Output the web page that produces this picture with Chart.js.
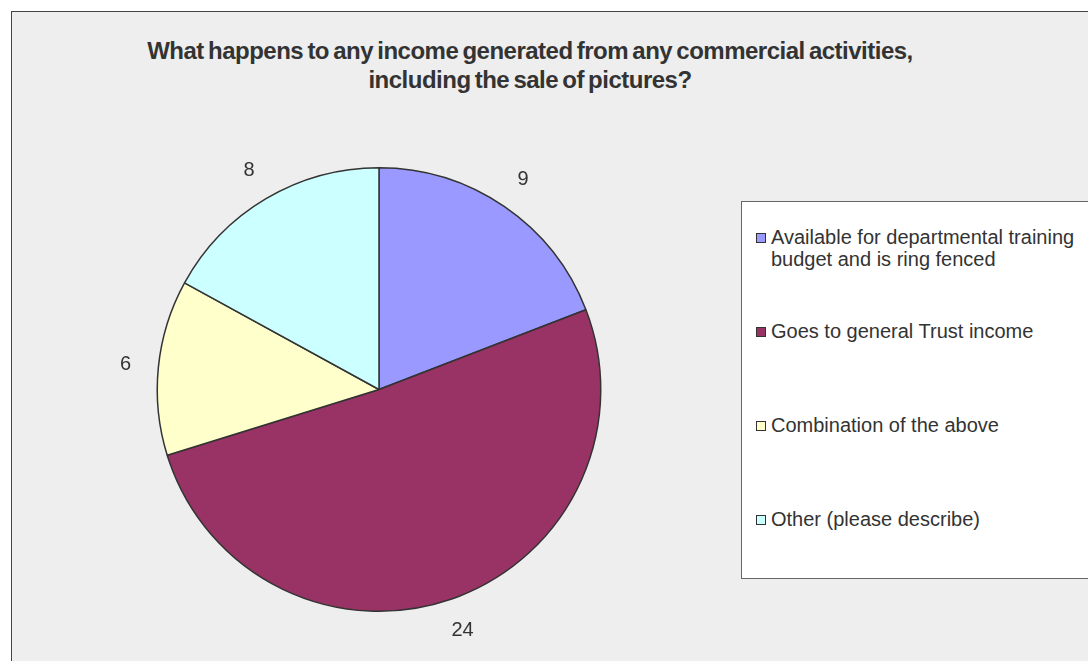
<!DOCTYPE html>
<html>
<head>
<meta charset="utf-8">
<script src="https://cdn.jsdelivr.net/npm/chart.js@4/dist/chart.umd.min.js"></script>
<style>
    html, body { margin: 0; padding: 0; background: #fff; }
    #frame {
        position: absolute; left: 11px; top: 11px; width: 1090px; height: 660px;
        background: #eeeeee; border-left: 1px solid #444; border-top: 1px solid #444;
    }
    #title {
        position: absolute; left: 0; top: 36px; width: 1060px; text-align: center;
        font-family: "Liberation Sans", Arial, sans-serif; font-weight: bold;
        font-size: 24px; line-height: 29px; letter-spacing: -0.5px; word-spacing: -2px; color: #333;
    }
    #wrap { position: absolute; left: 0; top: 0; width: 1088px; height: 661px; }
    #legend {
        position: absolute; left: 741px; top: 201px; width: 400px; height: 376px;
        border: 1px solid #666; background: #fff;
        font-family: "Liberation Sans", Arial, sans-serif; font-size: 20px; color: #333;
    }
    .item { position: absolute; left: 14px; line-height: 22px; }
    .swatch {
        position: absolute; left: 0; top: 7px; width: 8px; height: 8px;
        border: 1px solid #333;
    }
    .text { position: absolute; left: 15px; top: 0; width: 318px; }
</style>
</head>
<body>
<div id="frame"></div>
<div id="title">What happens to any income generated from any commercial activities,<br>including the sale of pictures?</div>
<div id="wrap"><canvas id="pie"></canvas></div>
<div id="legend"></div>

<script>
var labels = [
    'Available for departmental training budget and is ring fenced',
    'Goes to general Trust income',
    'Combination of the above',
    'Other (please describe)'
];
var counts = [9, 24, 6, 8];
var colours = ['#9999ff', '#993366', '#ffffcc', '#ccffff'];

// legend, one entry per category
var legend = document.getElementById('legend');
labels.forEach(function (name, i) {
    var item = document.createElement('div');
    item.className = 'item';
    item.style.top = (24 + i * 94) + 'px';
    item.innerHTML = '<span class="swatch" style="background:' + colours[i] + '"></span>' +
        '<span class="text">' + name + '</span>';
    legend.appendChild(item);
});

// value labels just outside each slice
var outsideLabels = {
    id: 'outsideLabels',
    afterDatasetsDraw: function (chart) {
        var ctx = chart.ctx;
        var meta = chart.getDatasetMeta(0);
        ctx.save();
        ctx.font = '20px "Liberation Sans", Arial, sans-serif';
        ctx.fillStyle = '#333';
        ctx.textAlign = 'center';
        ctx.textBaseline = 'middle';
        meta.data.forEach(function (arc, i) {
            var mid = (arc.startAngle + arc.endAngle) / 2;
            var r = arc.outerRadius + 33;
            ctx.fillText(String(counts[i]), arc.x + Math.cos(mid) * r, arc.y + Math.sin(mid) * r);
        });
        ctx.restore();
    }
};

new Chart(document.getElementById('pie').getContext('2d'), {
    type: 'pie',
    data: {
        labels: labels,
        datasets: [{
            data: counts,
            backgroundColor: colours,
            borderColor: '#333',
            borderWidth: 1.5
        }]
    },
    options: {
        responsive: true,
        maintainAspectRatio: false,
        animation: false,
        layout: { padding: { left: 156, right: 486, top: 167, bottom: 49 } },
        plugins: {
            legend: { display: false },
            tooltip: { enabled: false }
        }
    },
    plugins: [outsideLabels]
});
</script>
</body>
</html>
